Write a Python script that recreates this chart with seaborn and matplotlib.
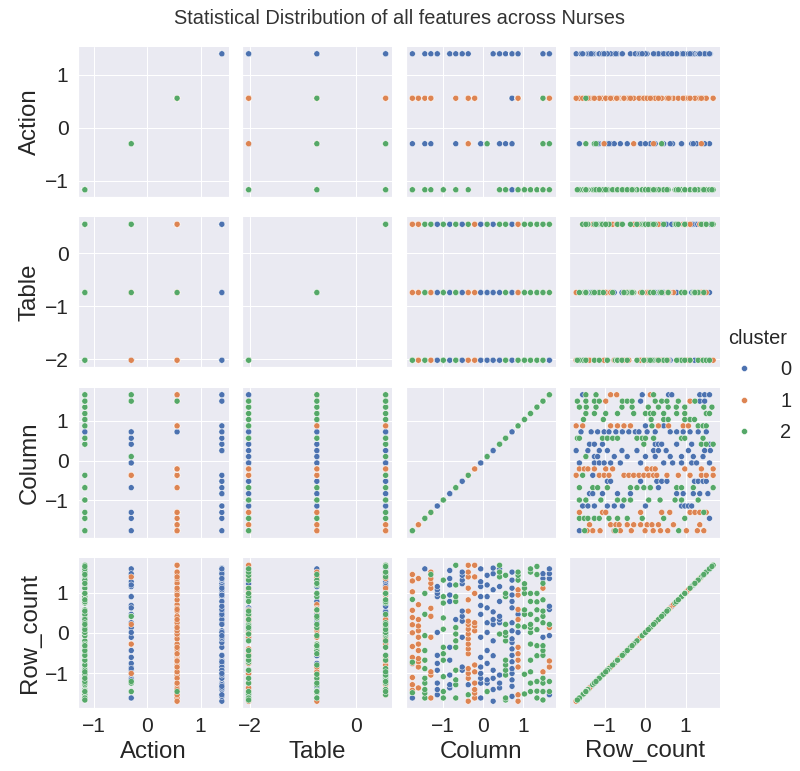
import matplotlib
matplotlib.use("Agg")
import matplotlib.pyplot as plt
import pandas as pd
import seaborn as sns

# Standardised feature levels
action_levels = [-1.17, -0.30, 0.56, 1.40]
table_levels = [-2.02, -0.74, 0.55]
column_levels = [-1.76, -1.61, -1.45, -1.30, -1.14, -0.99, -0.83, -0.68,
                 -0.52, -0.37, -0.21, -0.06, 0.10, 0.25, 0.41, 0.56,
                 0.72, 0.87, 1.03, 1.18, 1.34, 1.49, 1.65]

# One entry per Column level: cluster id, Action level index and Table
# level index for every record, plus the records' Row_count values.
cluster_codes = [
    "111111111111122200", "111111111111", "22222222222010", "1111111111002",
    "00000000000", "22222222222", "0000000000", "222222220222201",
    "0000000000", "12011111111111111111", "111111111111", "0000000000000",
    "20000000000", "000000000000", "0002000002202", "222222222222200",
    "000000000000000000", "1111110210111222", "22222222", "2222222222222",
    "222222222222", "22221222022221200", "0221101200000",
]
action_codes = [
    "222222222222200031", "222222222222", "00000000000321", "2222222222310",
    "33333333333", "00000000000", "3333333333", "000000003000012",
    "3333333333", "20321222122212222122", "222222222222", "1111111111111",
    "11111111111", "333333333333", "3130331330030", "000000000000031",
    "330313323331330323", "2222223023222000", "00000000", "0000000000000",
    "000000000000", "02102000301002033", "3012232033313",
]
table_codes = [
    "012012012012000000", "012012012012", "01201201201101", "0101010101222",
    "01201201201", "01201201201", "0120120120", "012012012201201",
    "0120120120", "02110210120120120120", "012012012012", "0120120120120",
    "20101010120", "012012012012", "0122100122202", "012012012012012",
    "012012012012012012", "1212012021120000", "01201201", "0120120120120",
    "012012012012", "01201201021022112", "0121212202010",
]
row_counts = [
    [1.45, 1.29, 1.02, 0.56, 0.38, 0.20, 0.00, -0.34, -0.61, -0.76, -1.11,
     -1.29, -1.43, 0.83, -0.73, -1.49, -0.77, -1.62],
    [-1.37, -0.85, -0.72, -0.64, -0.44, -0.28, -0.11, 0.05, 0.17, 0.33, 0.70, 1.35],
    [-1.62, -1.50, -1.41, -1.25, -1.13, -0.89, -0.68, -0.44, -0.07, 0.46, 0.98,
     1.59, -0.68, -1.25],
    [-1.62, -1.05, -0.97, -0.11, 0.41, 0.61, 1.11, 1.23, 1.35, 1.51, -0.97, 0.41, 1.45],
    [-1.54, -1.41, -1.25, -0.93, -0.76, -0.56, 0.01, 0.90, 0.98, 1.07, 1.15],
    [-1.62, -1.46, -1.09, -0.68, -0.52, -0.36, 0.09, 0.37, 0.74, 0.90, 1.31],
    [-1.37, -1.29, -1.05, -0.68, -0.36, 0.78, 0.94, 1.19, 1.35, 1.55],
    [-1.62, -1.29, -1.17, -0.93, -0.36, -0.20, -0.03, 0.13, 0.33, 0.78, 0.90,
     1.19, 1.68, 0.13, -0.93],
    [-0.93, -0.85, -0.11, 0.29, 0.41, 0.54, 1.22, 1.31, 1.43, 1.51],
    [-1.70, -1.54, -1.29, -1.13, -1.01, -0.89, -0.52, -0.40, -0.28, -0.15, -0.03,
     0.09, 0.21, 0.29, 0.54, 0.82, 1.11, 1.39, 1.51, 1.68],
    [-1.62, -1.50, -1.41, -1.25, -0.97, -0.80, 0.05, 0.17, 0.25, 0.98, 1.39, 1.68],
    [-1.62, -1.25, -1.13, -1.01, -0.85, -0.61, -0.11, 0.46, 0.68, 0.90, 1.15, 1.27, 1.59],
    [-1.46, -1.25, -1.17, -0.76, -0.44, 0.01, 0.25, 0.62, 0.90, 1.19, 1.43],
    [-1.70, -1.41, -1.13, -0.93, -0.57, -0.20, 0.21, 0.33, 0.52, 1.07, 1.47, 1.61],
    [-1.37, -1.25, -1.05, -0.03, 0.25, 0.33, 0.41, 0.78, 1.15, 1.39, 1.51, 1.59, 1.68],
    [-1.67, -1.62, -1.05, -0.93, -0.80, -0.68, -0.20, -0.07, 0.01, 0.21, 0.90,
     0.98, 1.43, 0.21, -0.93],
    [-1.58, -1.33, -1.17, -1.01, -0.89, -0.72, -0.56, -0.40, -0.24, -0.15, 0.05,
     0.25, 0.62, 0.78, 0.94, 1.11, 1.31, 1.51],
    [-1.70, -1.54, -0.85, -0.68, -0.52, -0.36, 0.01, 0.17, 0.33, 0.46, 0.58,
     0.94, 1.07, 1.31, 1.43, 1.51],
    [-1.52, -1.03, 0.15, 0.46, 0.57, 0.98, 1.11, 1.22],
    [-1.46, -1.25, -0.97, -0.68, -0.28, 0.01, 0.13, 0.21, 0.46, 0.78, 0.98, 1.51, 1.59],
    [-1.62, -1.45, -1.21, -0.57, -0.32, 0.08, 0.33, 0.57, 0.77, 0.98, 1.45, 1.65],
    [-1.67, -1.46, -1.25, -1.13, -0.97, -0.56, -0.44, -0.32, -0.11, 0.25, 0.41,
     0.54, 0.82, 1.11, 1.23, 1.35, 1.47],
    [-1.54, -1.46, -1.21, -0.85, -0.70, -0.07, 0.13, 0.21, 0.58, 0.66, 1.35, 1.47, 1.59],
]
cluster_names = ["0", "1", "2"]

# Assemble the feature table
records = []
for k, col_val in enumerate(column_levels):
    parts = (cluster_codes[k], action_codes[k], table_codes[k], row_counts[k])
    n = len(row_counts[k])
    if any(len(p) != n for p in parts):
        raise ValueError(f"length mismatch for column level {k}: {[len(p) for p in parts]}")
    for c, a, t, r in zip(*parts):
        records.append({
            "Action": action_levels[int(a)],
            "Table": table_levels[int(t)],
            "Column": col_val,
            "Row_count": r,
            "cluster": cluster_names[int(c)],
        })
df = pd.DataFrame(records)
df = df.sort_values("cluster", kind="mergesort").reset_index(drop=True)

sns.set_theme(style="darkgrid", font_scale=2)
plt.rcParams["font.family"] = ["Liberation Sans", "DejaVu Sans"]
plt.rcParams["xtick.labelsize"] = 21
plt.rcParams["ytick.labelsize"] = 21
plt.rcParams["axes.labelsize"] = 24

g = sns.pairplot(df, hue="cluster", hue_order=cluster_names, diag_kind=None,
                 vars=["Action", "Table", "Column", "Row_count"])

fig = g.figure
fig.set_size_inches(800 / 72, 771 / 72)
fig.subplots_adjust(left=78 / 800, right=720 / 800,
                    bottom=1 - 708 / 771, top=1 - 47 / 771,
                    wspace=13 / 150, hspace=21 / 150)

sns.move_legend(g, "center right", bbox_to_anchor=(1.012, 0.5), frameon=False,
                title="cluster", fontsize=20, title_fontsize=20,
                labelspacing=0.62)

fig.suptitle("Statistical Distribution of all features across Nurses",
             fontsize=20, y=1 - 18 / 771, va="center", color="0.2")

fig.savefig("out.png", dpi=72)
